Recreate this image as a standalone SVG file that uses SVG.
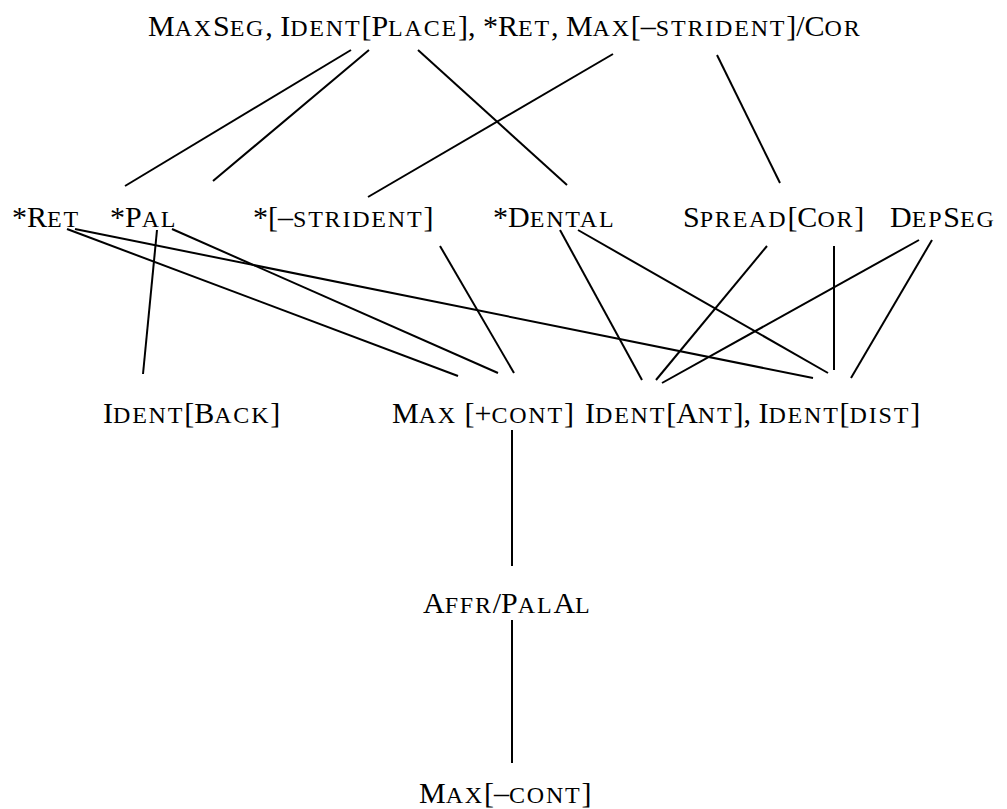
<svg xmlns="http://www.w3.org/2000/svg" width="1007" height="809" viewBox="0 0 1007 809">
<style>
text{font-family:"Liberation Serif","Times New Roman",serif;font-size:30px;fill:#000}
.sc{font-size:24px;letter-spacing:1.8px}
#edges line{stroke:#000;stroke-width:2;stroke-linecap:butt}
</style>
<rect width="1007" height="809" fill="#fff"/>
<g id="edges">
<line x1="351" y1="50" x2="125" y2="186"/>
<line x1="369" y1="50" x2="213" y2="181"/>
<line x1="418" y1="50" x2="567" y2="185"/>
<line x1="613" y1="54" x2="368" y2="197"/>
<line x1="717" y1="55" x2="780" y2="183"/>
<line x1="67" y1="229" x2="458" y2="376"/>
<line x1="75" y1="229" x2="813" y2="378"/>
<line x1="157" y1="230" x2="143" y2="374"/>
<line x1="172" y1="229" x2="498" y2="373"/>
<line x1="440" y1="246" x2="514" y2="373"/>
<line x1="560" y1="230" x2="642" y2="380"/>
<line x1="578" y1="230" x2="828" y2="373"/>
<line x1="767" y1="246" x2="656" y2="380"/>
<line x1="834" y1="246" x2="834" y2="370"/>
<line x1="919" y1="240" x2="662" y2="383"/>
<line x1="932" y1="240" x2="851" y2="378"/>
<line x1="512" y1="430" x2="512" y2="566"/>
<line x1="512" y1="620" x2="512" y2="763"/>
</g>
<g id="n-top"><text x="148" y="36">M<tspan class="sc">AX</tspan>S<tspan class="sc">EG</tspan>, I<tspan class="sc">DENT</tspan>[P<tspan class="sc">LACE</tspan>], *R<tspan class="sc">ET</tspan>, M<tspan class="sc">AX</tspan>[–<tspan class="sc">STRIDENT</tspan>]/C<tspan class="sc">OR</tspan></text></g>
<g id="n-ret"><text x="12" y="227">*R<tspan class="sc">ET</tspan></text></g>
<g id="n-pal"><text x="110" y="227">*P<tspan class="sc">AL</tspan></text></g>
<g id="n-strident"><text x="253" y="227">*[–<tspan class="sc">STRIDENT</tspan>]</text></g>
<g id="n-dental"><text x="493" y="227">*D<tspan class="sc">ENTAL</tspan></text></g>
<g id="n-spread"><text x="683" y="227">S<tspan class="sc">PREAD</tspan>[C<tspan class="sc">OR</tspan>]</text></g>
<g id="n-depseg"><text x="890" y="227">D<tspan class="sc">EP</tspan>S<tspan class="sc">EG</tspan></text></g>
<g id="n-identback"><text x="103" y="423">I<tspan class="sc">DENT</tspan>[B<tspan class="sc">ACK</tspan>]</text></g>
<g id="n-maxcont"><text x="392" y="423">M<tspan class="sc">AX</tspan> [+<tspan class="sc">CONT</tspan>]</text></g>
<g id="n-identant"><text x="585" y="423">I<tspan class="sc">DENT</tspan>[A<tspan class="sc">NT</tspan>], I<tspan class="sc">DENT</tspan>[<tspan class="sc">DIST</tspan>]</text></g>
<g id="n-affr"><text x="423" y="613">A<tspan class="sc">FFR</tspan>/P<tspan class="sc">AL</tspan>A<tspan class="sc">L</tspan></text></g>
<g id="n-maxminus"><text x="419" y="803">M<tspan class="sc">AX</tspan>[–<tspan class="sc">CONT</tspan>]</text></g>
</svg>
